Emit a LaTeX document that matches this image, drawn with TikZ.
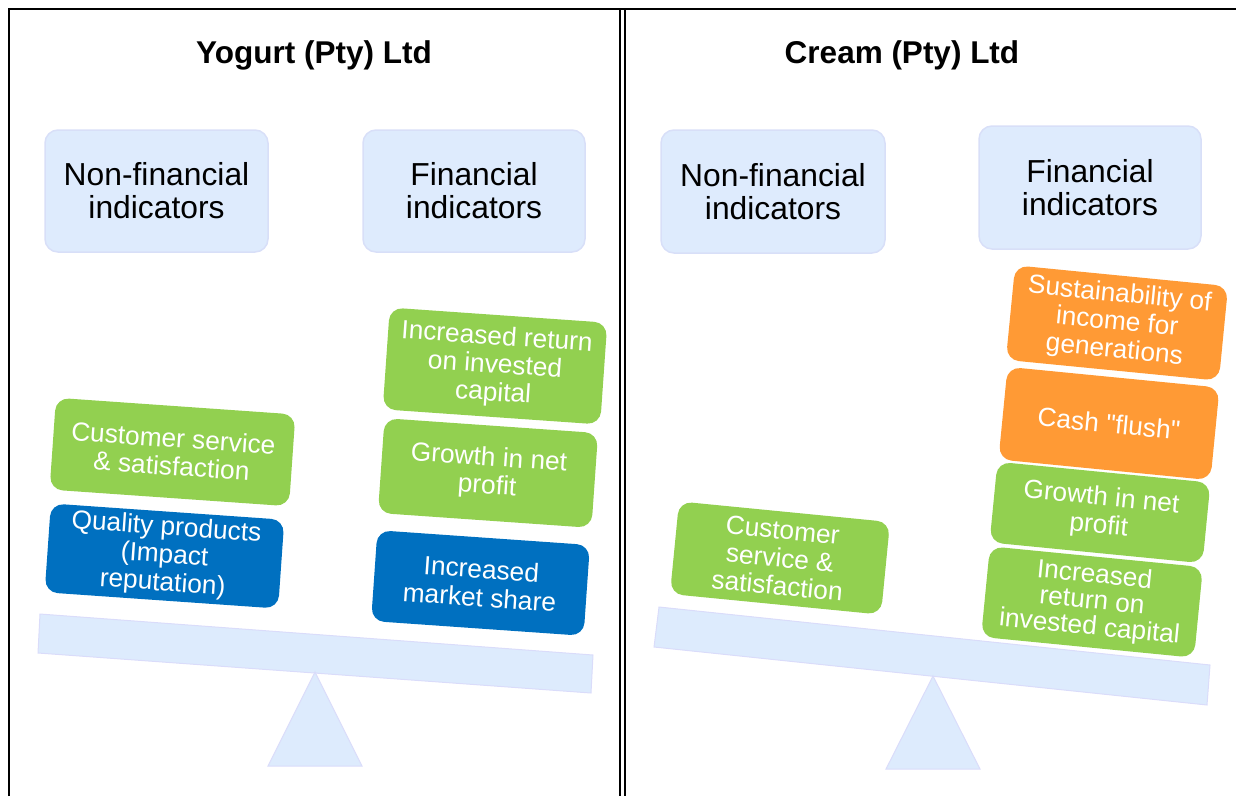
\documentclass[tikz,border=0pt]{standalone}
\usepackage{fontspec}
\setmainfont{Liberation Sans}
\definecolor{grn}{HTML}{92D050}
\definecolor{blu}{HTML}{0070C0}
\definecolor{org}{HTML}{FF9A35}
\definecolor{hdrfill}{HTML}{DEEBFD}
\definecolor{hdrline}{HTML}{D8DFF8}
\definecolor{beamfill}{HTML}{DDEBFD}
\definecolor{beamline}{HTML}{DADCFA}
\tikzset{
  frameline/.style={line width=1.5pt, draw=black},
  titletext/.style={anchor=base, font=\bfseries\fontsize{31.5}{34}\selectfont},
  hdrbox/.style={rectangle, fill=hdrfill, draw=hdrline, line width=1.5pt, rounded corners=13pt,
    align=center, inner sep=0pt, text=black, font=\fontsize{31.8}{33}\selectfont},
  itembox/.style={rectangle, rounded corners=13pt, align=center, inner sep=0pt, text=white,
    font=\fontsize{26.3}{28}\selectfont},
  grnbox/.style={itembox, fill=grn},
  blubox/.style={itembox, fill=blu},
  orgbox/.style={itembox, fill=org},
  beam/.style={fill=beamfill, draw=beamline, line width=1pt},
}
\begin{document}
\begin{tikzpicture}[x=1pt,y=-1pt]
\useasboundingbox (0,0) rectangle (1236,796);
% frame
\draw[frameline] (9,796) -- (9,9) -- (1236,9);
\draw[frameline] (620,9) -- (620,796);
\draw[frameline] (625,9) -- (625,796);
% titles
\node[titletext] (t1) at (314,63) {Yogurt (Pty) Ltd};
\node[titletext] (t2) at (902,63) {Cream (Pty) Ltd};
% header boxes
\node[hdrbox, minimum width=223pt, minimum height=122pt] (nf1) at (156.5,191) {Non-financial\\indicators};
\node[hdrbox, minimum width=222pt, minimum height=122pt] (f1) at (474,191) {Financial\\indicators};
\node[hdrbox, minimum width=224pt, minimum height=123pt] (nf2) at (773,191.5) {Non-financial\\indicators};
\node[hdrbox, minimum width=222pt, minimum height=123pt] (f2) at (1090,187.5) {Financial\\indicators};
% left seesaw
\draw[beam] (40,614) -- (593,655) -- (591,693) -- (38,653) -- cycle;
\draw[beam] (315,672) -- (362,766) -- (268,766) -- cycle;
% right seesaw
\draw[beam] (659,607) -- (1210,665) -- (1207,705) -- (654,647) -- cycle;
\draw[beam] (933,676) -- (980,769) -- (886,769) -- cycle;
% left panel items
\node[grnbox, rotate=-4, minimum width=240pt, minimum height=92pt] (cs1) at (172.5,452) {Customer service\\\& satisfaction};
\node[blubox, rotate=-4, minimum width=234pt, minimum height=89pt] (qp) at (164.5,556) {Quality products\\(Impact\\reputation)};
\node[grnbox, rotate=-4, minimum width=218pt, minimum height=102pt] (ir1) at (495,366) {Increased return\\on invested\\capital};
\node[grnbox, rotate=-4, minimum width=214pt, minimum height=95pt] (gn1) at (488,473) {Growth in net\\profit};
\node[blubox, rotate=-4, minimum width=213pt, minimum height=91pt] (ms) at (480.5,583) {Increased\\market share};
% right panel items
\node[grnbox, rotate=-5.6, minimum width=212pt, minimum height=93pt] (cs2) at (780,558) {Customer\\service \&\\satisfaction};
\node[orgbox, rotate=-5.6, minimum width=214pt, minimum height=95pt] (sus) at (1117,323) {Sustainability of\\income for\\generations};
\node[orgbox, rotate=-5.6, minimum width=213pt, minimum height=93pt] (cash) at (1109,423.5) {Cash \textquotedbl flush\textquotedbl};
\node[grnbox, rotate=-5.6, minimum width=214pt, minimum height=81pt] (gn2) at (1100,512.5) {Growth in net\\profit};
\node[grnbox, rotate=-5.6, minimum width=214pt, minimum height=91pt, font=\fontsize{26.3}{26}\selectfont] (ir2) at (1092,602) {Increased\\return on\\invested capital};
\end{tikzpicture}
\end{document}
